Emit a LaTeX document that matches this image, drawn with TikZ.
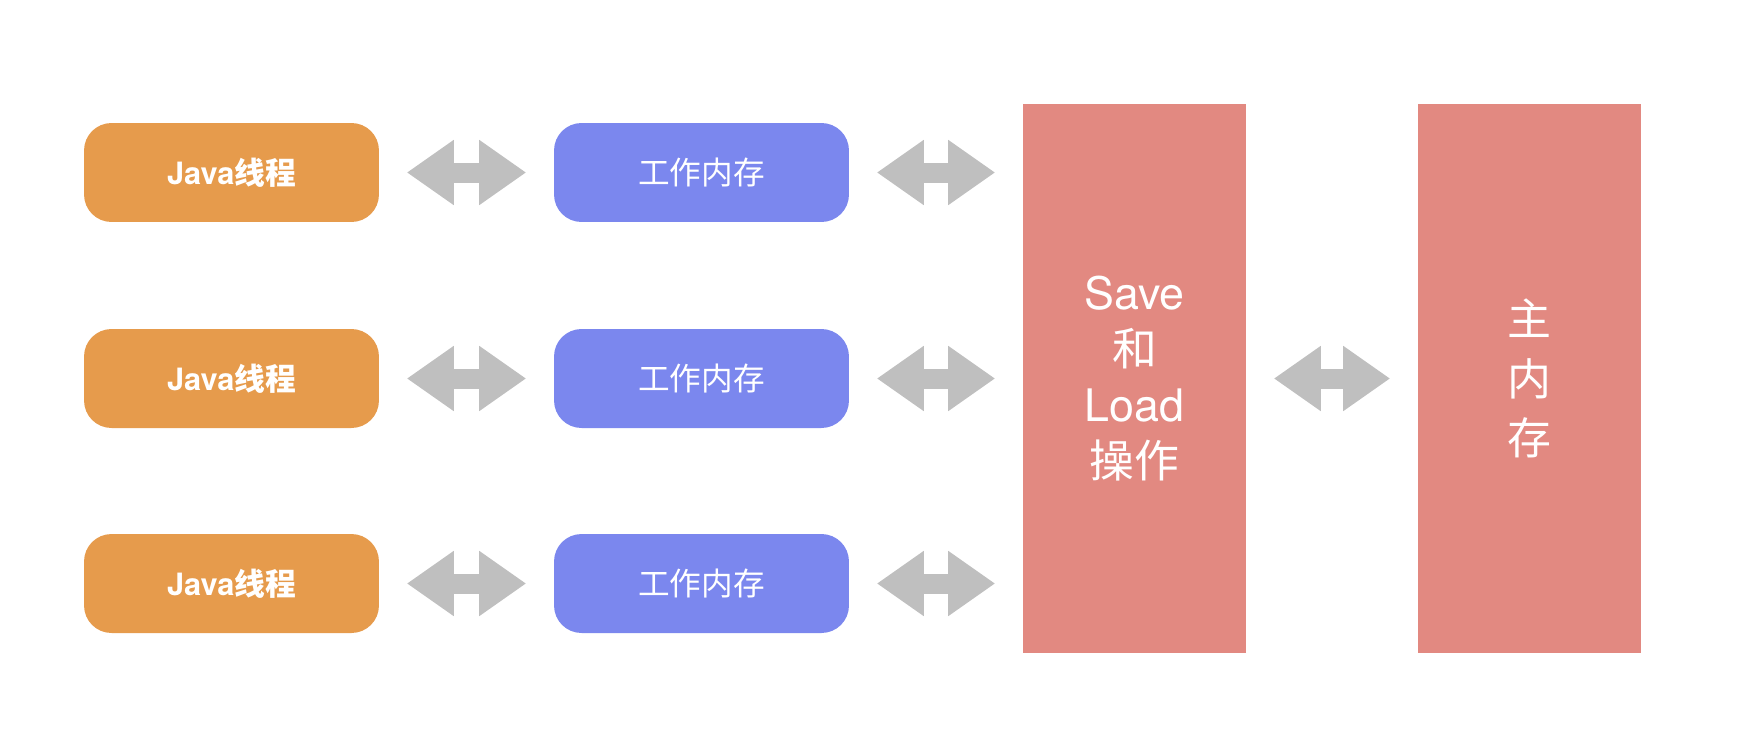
\documentclass[tikz,border=0pt]{standalone}
\usepackage{fontspec}
\setmainfont{TeX Gyre Heros}
\newfontfamily\cjk{Noto Sans CJK SC}
\usetikzlibrary{arrows.meta,positioning}
\definecolor{threadorange}{HTML}{E69B4C}
\definecolor{workblue}{HTML}{7B87EE}
\definecolor{barred}{HTML}{E28981}
\definecolor{linkgray}{HTML}{BFBFBF}

\begin{document}
\begin{tikzpicture}[x=0.02cm,y=-0.02cm,every node/.style={text=white,inner sep=0pt},
	thread/.style={fill=threadorange,rounded corners=0.55cm,minimum width=5.9cm,minimum height=1.98cm,font=\fontsize{17.5}{22}\selectfont\bfseries},
	workmem/.style={fill=workblue,rounded corners=0.55cm,minimum width=5.9cm,minimum height=1.98cm,font=\fontsize{18}{22}\selectfont\cjk},
	bar/.style={fill=barred,minimum width=4.46cm,minimum height=10.98cm},
	bartext/.style={align=center,font=\fontsize{25.5}{32}\selectfont},
	link/.style={linkgray,line width=0.4cm,{Triangle[length=0.94cm,width=1.24cm]}-{Triangle[length=0.94cm,width=1.24cm]},shorten <=0.55cm,shorten >=0.55cm}]
	\useasboundingbox (0,0) rectangle (1738,748);

	\node[thread] (t1) at (231.5,172.5) {Java{\cjk 线程}};
	\node[thread] (t2) at (231.5,378.5) {Java{\cjk 线程}};
	\node[thread] (t3) at (231.5,583.5) {Java{\cjk 线程}};

	\node[workmem] (w1) at (701.5,172.5) {工作内存};
	\node[workmem] (w2) at (701.5,378.5) {工作内存};
	\node[workmem] (w3) at (701.5,583.5) {工作内存};

	\node[bar] (save) at (1134.5,378.5) {};
	\node[bar] (main) at (1529.5,378.5) {};

	\node[bartext] (savetext) at (save.center) {Save\\{\cjk 和}\\Load\\{\cjk 操作}};
	\node[bartext,font=\fontsize{25}{34}\selectfont\cjk] (maintext) at (main.center) {主\\内\\存};

	\draw[link] (t1) -- (w1);
	\draw[link] (t2) -- (w2);
	\draw[link] (t3) -- (w3);
	\draw[link] (w1) -- (w1 -| save.west);
	\draw[link] (w2) -- (w2 -| save.west);
	\draw[link] (w3) -- (w3 -| save.west);
	\draw[link] (save) -- (main);
\end{tikzpicture}
\end{document}
